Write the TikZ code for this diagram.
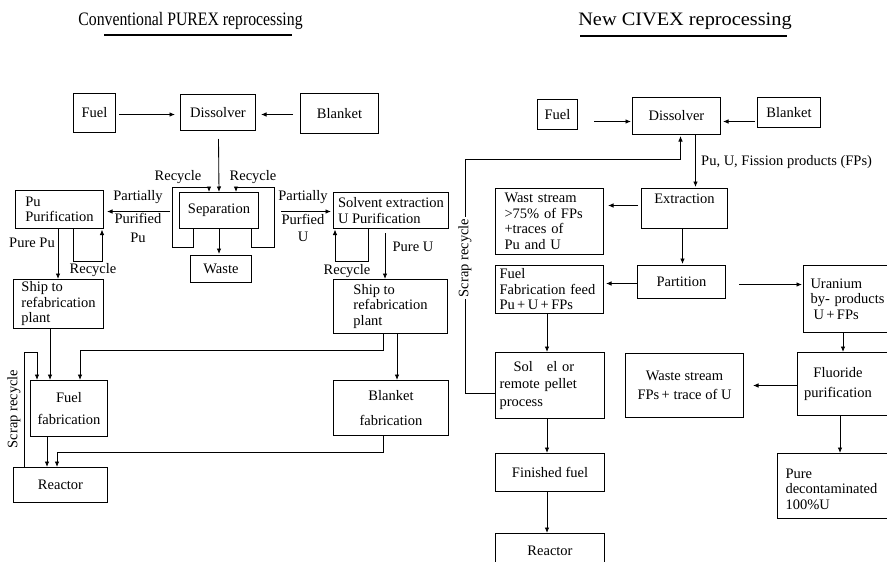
\documentclass[tikz,border=0pt]{standalone}
\usepackage{fontspec}
\setmainfont{Liberation Serif}
\usetikzlibrary{arrows.meta,calc}
\newcommand\bodyfs{\fontsize{14.5}{15.5}\selectfont}
\begin{document}
\begin{tikzpicture}[x=1pt,y=-1pt,
 box/.style={draw, line width=1pt, inner xsep=3pt, inner ysep=1pt, anchor=north west, font=\bodyfs, align=center},
 arr/.style={line width=0.85pt, -{Latex[length=5.5pt,width=4.5pt]}},
 txt/.style={font=\bodyfs, inner sep=0pt, align=center},
 ttl/.style={font=\fontsize{19}{21}\selectfont, inner sep=0pt}]
\fill[white] (0,0) rectangle (887,562);
\useasboundingbox (0,0) rectangle (887,562);

% titles
\node[ttl] (t1) at (190.5,21) {\scalebox{0.83}[1]{Conventional PUREX reprocessing}};
\node[ttl] (t2) at (685,21) {\scalebox{1.07}[1]{New CIVEX reprocessing}};
\draw[line width=1.1pt] (104,35) -- (292,35);
\draw[line width=1.1pt] (580,36) -- (787,36);

% ---------------- left diagram ----------------
\node[box, minimum width=42, minimum height=39] (lfuel) at (73,93) {Fuel};
\node[box, minimum width=75, minimum height=36] (ldiss) at (180,94) {Dissolver};
\node[box, minimum width=78, minimum height=40] (lblank) at (300,93) {Blanket};
\node[box, minimum width=79, minimum height=36] (lsep) at (179,192) {Separation};
\node[box, minimum width=61, minimum height=27] (lwaste) at (190,255) {Waste};
\node[box, minimum width=88, minimum height=38, align=left] (lpu) at (15,190) {Pu\\Purification};
\node[box, minimum width=115, minimum height=36, align=left] (lsolv) at (333,192) {Solvent extraction\\U Purification};
\node[box, minimum width=90, minimum height=49, align=left] (lshipl) at (13,279) {Ship to\\refabrication\\plant};
\node[box, minimum width=114, minimum height=54, align=left] (lshipr) at (333,279) {Ship to\\refabrication\\plant};
\node[box, minimum width=77, minimum height=56] (lfuelfab) at (30,380) {Fuel\\[7pt]fabrication};
\node[box, minimum width=115, minimum height=55] (lblankfab) at (333,380) {Blanket\\[9pt]fabrication};
\node[box, minimum width=94, minimum height=35] (lreact) at (13,467) {Reactor};

\draw[arr] ($(lfuel.east)+(3,1.5)$) -- ($(ldiss.west)+(-5,2)$);
\draw[arr] ($(lblank.west)+(-7,1)$) -- ($(ldiss.east)+(5,2)$);
\draw[arr] ($(ldiss.south)+(0.5,8)$) -- (lsep.north);
\draw[arr] ($(lsep.south west)+(14,0)$) |- ($(lsep.south west)+(-7,18)$) |- ($(lsep.north west)+(30,-5)$) -- ($(lsep.north west)+(30,0)$);
\draw[arr] ($(lsep.south east)+(-8,0)$) |- ($(lsep.south east)+(15,18)$) |- ($(lsep.north east)+(-23,-5)$) -- ($(lsep.north east)+(-23,0)$);
\node[txt] (rec1) at (178,177) {Recycle};
\node[txt] (rec2) at (253,177) {Recycle};
\draw[arr, shorten >=1pt] (lsep.south) -- (lsep.south |- lwaste.north);

\coordinate (pL) at ($(lsep.west)+(-9,1)$);
\draw[arr, shorten >=3pt] (pL) -- (pL -| lpu.east);
\node[txt] (lp1) at (138,197) {Partially};
\node[txt] (lp2) at (138,228) {Purified\\[3pt]Pu};
\coordinate (pR) at ($(lsep.east)+(22,1)$);
\draw[arr, shorten >=2pt] (pR) -- (pR -| lsolv.west);
\node[txt] (lu1) at (303,197) {Partially};
\node[txt] (lu2) at (303,228) {Purfied\\[1pt]U};

\draw[arr] ($(lpu.south west)+(58,0)$) |- ($(lpu.south east)+(-2,32)$) -- ($(lpu.south east)+(-2,0.5)$);
\node[txt] (rec3) at (93,270) {Recycle};
\node[txt] (ppu) at (32,243) {Pure Pu};
\coordinate (pp) at ($(lpu.south west)+(43,0)$);
\draw[arr] (pp) -- (pp |- lshipl.north);

\draw[arr] ($(lsolv.south west)+(35,0)$) |- ($(lsolv.south west)+(2,32)$) -- ($(lsolv.south west)+(2,0.5)$);
\node[txt] (rec4) at (347,271) {Recycle};
\node[txt] (ppuu) at (413,247) {Pure U};
\coordinate (pu) at ($(lsolv.south west)+(52,4)$);
\draw[arr] (pu) -- (pu |- lshipr.north);

\coordinate (s1) at ($(lshipl.south west)+(37,0)$);
\draw[arr] (s1) -- (s1 |- lfuelfab.north);
\draw[arr] ($(lshipr.south west)+(50,0)$) |- ($(lfuelfab.north west)+(50,-30)$) -- ($(lfuelfab.north west)+(50,0)$);
\coordinate (s2) at ($(lshipr.south west)+(64,0)$);
\draw[arr] (s2) -- (s2 |- lblankfab.north);
\draw[arr] ($(lreact.north west)+(11,0)$) |- ($(lfuelfab.north west)+(7,-28)$) -- ($(lfuelfab.north west)+(7,0)$);
\node[txt, rotate=90] (scr1) at (14,409) {Scrap recycle};
\coordinate (f1) at ($(lfuelfab.south west)+(17,0)$);
\draw[arr] (f1) -- (f1 |- lreact.north);
\draw[arr] ($(lblankfab.south west)+(50,0)$) |- ($(lreact.north west)+(44,-15)$) -- ($(lreact.north west)+(44,0)$);

% ---------------- right diagram ----------------
\node[box, minimum width=40, minimum height=30] (rfuel) at (537,99) {Fuel};
\node[box, minimum width=88, minimum height=37] (rdiss) at (632,97) {Dissolver};
\node[box, minimum width=63, minimum height=30] (rblank) at (757,97) {Blanket};
\node[box, minimum width=86, minimum height=40] (rextr) at (641,188) {Extraction\\\strut};
\node[box, inner xsep=9, text width=90, minimum height=66, align=left] (rwast) at (495,188) {Wast stream\\>75\% of FPs\\+traces of\\Pu and U};
\node[box, minimum width=88, minimum height=33] (rpart) at (637,265) {Partition};
\node[box, inner xsep=4, text width=100, minimum height=48, align=left] (rfeed) at (495,265) {Fuel\\Fabrication feed\\Pu\,+\,U\,+\,FPs};
\node[box, inner xsep=7, text width=85, minimum height=67, align=left] (ruran) at (803,265) {Uranium\\by- products\\\hspace*{3pt}U\,+\,FPs};
\node[box, minimum width=95, minimum height=63, label={[font=\bodyfs, align=center, xshift=-7pt]center:Fluoride\\[4pt]purification}] (rfluor) at (797,352) {};
\node[box, minimum width=118, minimum height=64] (rwaste) at (625,353) {Waste stream\\[4pt]FPs\,+ trace of U};
\node[box, inner xsep=8, text width=100, minimum height=65, align=left] (rpure) at (777,453) {\mbox{}\\Pure\\decontaminated\\100\%U};
\node[box, inner xsep=4, text width=101, minimum height=66, align=left] (rsol) at (495,352) {\hspace*{14pt}Sol\hspace{14pt}el or\\[2pt]remote pellet\\[2pt]process};
\node[box, minimum width=109, minimum height=38] (rfin) at (495,453) {Finished fuel};
\node[box, minimum width=109, minimum height=34] (rreact) at (495,533) {Reactor};

\draw[arr] ($(rfuel.east)+(16,7)$) -- ($(rdiss.west)+(-1,5.5)$);
\draw[arr] ($(rblank.west)+(-2,9)$) -- ($(rdiss.east)+(2,5.5)$);
\coordinate (d1) at ($(rdiss.south)+(19,0)$);
\draw[arr, shorten >=1pt] (d1) -- (d1 |- rextr.north);
\node[txt, anchor=west] (fplab) at (701,162) {Pu, U, Fission products (FPs)};
\draw[arr] ($(rsol.west)+(0,8)$) -- ++(-30,0) |- ($(rdiss.south)+(4,24)$) -- ($(rdiss.south)+(4,1)$);
\node[txt, rotate=90, fill=white, inner sep=2pt] (scr2) at (465,258) {Scrap recycle};
\draw[arr] ($(rextr.west)+(-3,-3)$) -- ($(rwast.east)+(4,-16)$);
\coordinate (e1) at ($(rextr.south)+(-2,0)$);
\draw[arr, shorten >=1pt] (e1) -- (e1 |- rpart.north);
\draw[arr] ($(rpart.west)+(0,1.5)$) -- ($(rfeed.east)+(2,-6)$);
\draw[arr] ($(rpart.east)+(13,2.5)$) -- ($(ruran.west)+(-1,-14.5)$);
\coordinate (u1) at ($(ruran.south west)+(40,0)$);
\draw[arr] (u1) -- (u1 |- rfluor.north);
\draw[arr] ($(rfluor.west)+(0,1.5)$) -- ($(rwaste.east)+(9,0)$);
\coordinate (f2) at ($(rfluor.south west)+(43,0)$);
\draw[arr] (f2) -- (f2 |- rpure.north);
\coordinate (g1) at ($(rfeed.south west)+(52,0)$);
\draw[arr] (g1) -- (g1 |- rsol.north);
\coordinate (g2) at ($(rsol.south west)+(52,0)$);
\draw[arr] (g2) -- (g2 |- rfin.north);
\coordinate (g3) at ($(rfin.south west)+(52,0)$);
\draw[arr] (g3) -- (g3 |- rreact.north);
\end{tikzpicture}
\end{document}
